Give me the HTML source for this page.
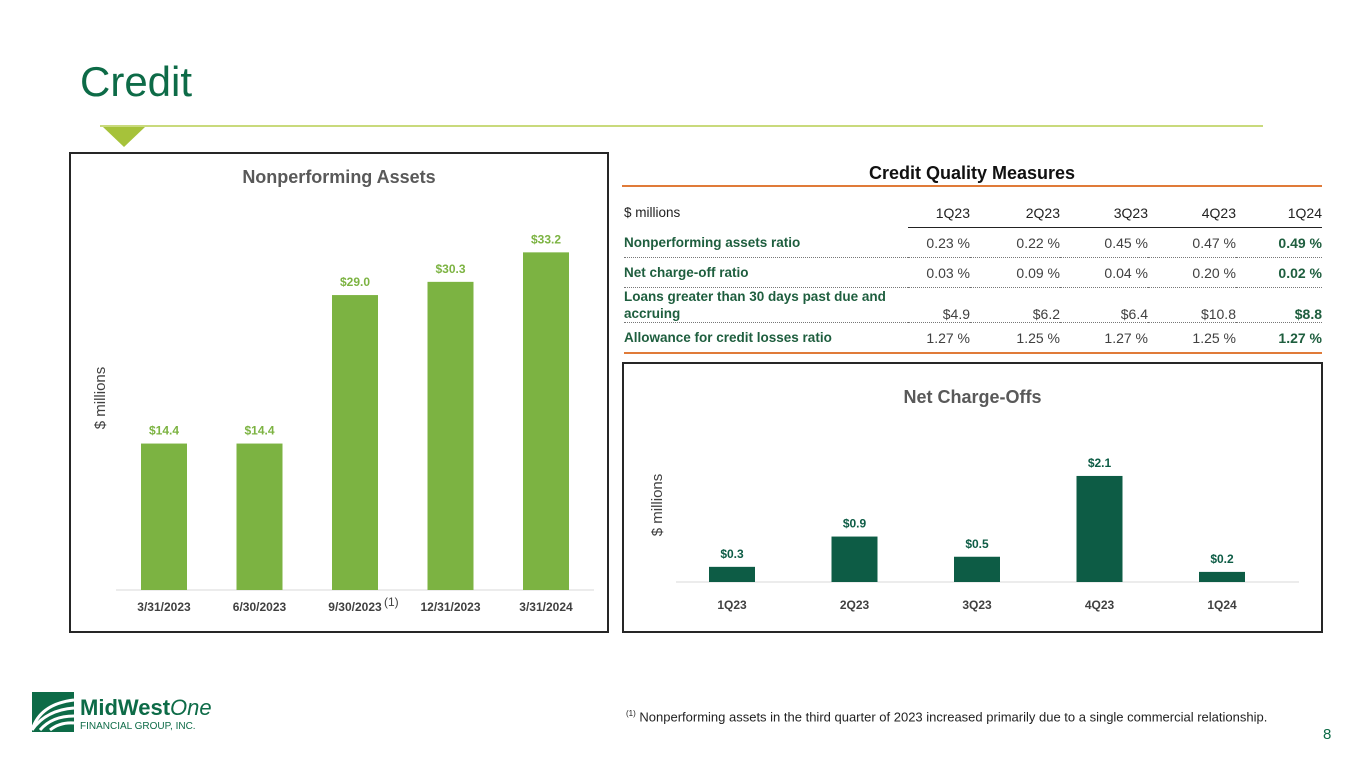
<!DOCTYPE html>
<html><head><meta charset="utf-8"><style>
body{margin:0;width:1365px;height:768px;background:#fff;font-family:"Liberation Sans",sans-serif;position:relative;overflow:hidden}
.a{position:absolute}
.box{position:absolute;border:2px solid #262626;box-sizing:border-box}
.ct{position:absolute;font-weight:bold;font-size:18px;color:#595959;text-align:center}
table{border-collapse:collapse;font-size:14px}
td{padding:0;height:29px;text-align:right;color:#404040}
td.l{text-align:left;color:#1e5e3e;font-weight:bold;font-size:13.5px}
tr.d td{border-bottom:1px dotted #777}
td.b{font-weight:bold;color:#1e5e3e}
</style></head><body>
<div class="a" style="left:80px;top:58px;font-size:42px;color:#0d6b47">Credit</div>
<div class="a" style="left:100px;top:125px;width:1163px;height:2px;background:#c9da7c"></div>
<div class="a" style="left:103px;top:127px;width:0;height:0;border-left:21px solid transparent;border-right:21px solid transparent;border-top:20px solid #a6c23a"></div>

<div class="box" style="left:69px;top:152px;width:540px;height:481px"></div>
<div class="ct" style="left:70px;width:538px;top:167px">Nonperforming Assets</div>
<svg class="a" id="npa" style="left:0;top:0" width="1365" height="768"></svg>

<div class="box" style="left:622px;top:362px;width:701px;height:271px"></div>
<div class="ct" style="left:623px;width:699px;top:387px">Net Charge-Offs</div>

<div class="ct" style="left:622px;width:700px;top:163px;color:#111">Credit Quality Measures</div>
<div class="a" style="left:622px;top:185px;width:700px;height:2px;background:#e07b39"></div>
<table class="a" style="left:624px;top:198px;width:698px">
<colgroup><col style="width:284px"><col style="width:62px"><col style="width:90px"><col style="width:88px"><col style="width:88px"><col style="width:86px"></colgroup>
<tr style="height:26px"><td class="l" style="font-weight:normal;color:#222;height:26px">$ millions</td><td style="border-bottom:1.5px solid #222;color:#222">1Q23</td><td style="border-bottom:1.5px solid #222;color:#222">2Q23</td><td style="border-bottom:1.5px solid #222;color:#222">3Q23</td><td style="border-bottom:1.5px solid #222;color:#222">4Q23</td><td style="border-bottom:1.5px solid #222;color:#222">1Q24</td></tr>
<tr class="d"><td class="l">Nonperforming assets ratio</td><td>0.23 %</td><td>0.22 %</td><td>0.45 %</td><td>0.47 %</td><td class="b">0.49 %</td></tr>
<tr class="d"><td class="l">Net charge-off ratio</td><td>0.03 %</td><td>0.09 %</td><td>0.04 %</td><td>0.20 %</td><td class="b">0.02 %</td></tr>
<tr class="d" style="vertical-align:bottom"><td class="l" style="height:34px;line-height:17px">Loans greater than 30 days past due and<br>accruing</td><td>$4.9</td><td>$6.2</td><td>$6.4</td><td>$10.8</td><td class="b">$8.8</td></tr>
<tr><td class="l" style="border-bottom:2px solid #e07b39">Allowance for credit losses ratio</td><td style="border-bottom:2px solid #e07b39">1.27 %</td><td style="border-bottom:2px solid #e07b39">1.25 %</td><td style="border-bottom:2px solid #e07b39">1.27 %</td><td style="border-bottom:2px solid #e07b39">1.25 %</td><td class="b" style="border-bottom:2px solid #e07b39">1.27 %</td></tr>
</table>

<svg class="a" style="left:32px;top:690px" width="190" height="45">
<rect x="0" y="2" width="42" height="40" fill="#0d6b47"/>
<path d="M0 40 Q8 14 42 10 M0 40 Q14 20 42 18 M8 40 Q20 26 42 26 M18 40 Q28 32 42 33" stroke="#fff" stroke-width="3" fill="none"/>
<text x="48" y="25" font-size="22" font-weight="bold" fill="#0d6b47" font-family="Liberation Sans">MidWest<tspan font-style="italic" font-weight="normal">One</tspan></text>
<text x="48" y="39" font-size="10" fill="#0d6b47" font-family="Liberation Sans">FINANCIAL GROUP, INC.</text>
</svg>
<div class="a" style="left:626px;top:709px;font-size:13px;color:#222;white-space:nowrap"><sup style="font-size:8px">(1)</sup> Nonperforming assets in the third quarter of 2023 increased primarily due to a single commercial relationship.</div>
<div class="a" style="left:1323px;top:726px;font-size:15px;color:#0d6b47">8</div>

<script>
const npaCategories=["3/31/2023","6/30/2023","9/30/2023","12/31/2023","3/31/2024"];
const npaValues=[14.4,14.4,29.0,30.3,33.2];
const npaLabels=["$14.4","$14.4","$29.0","$30.3","$33.2"];
const ncoCategories=["1Q23","2Q23","3Q23","4Q23","1Q24"];
const ncoValues=[0.3,0.9,0.5,2.1,0.2];
const ncoLabels=["$0.3","$0.9","$0.5","$2.1","$0.2"];
const svg=document.getElementById('npa');


const NS="http://www.w3.org/2000/svg";
function mk(t,a,txt){const e=document.createElementNS(NS,t);for(const k in a)e.setAttribute(k,a[k]);if(txt!=null)e.textContent=txt;svg.appendChild(e);return e;}
function chart(cfg){
  const {cats,vals,labs,x0,step,base,scale,color,bw,lblY,prefix,axisX1,axisX2,ytX,ytY}=cfg;
  const xs=i=>x0+i*step, ys=v=>base-v*scale;
  const ax=mk('line',{x1:axisX1,x2:axisX2,y1:base,y2:base,stroke:'#d9d9d9','stroke-width':1});
  
  
  vals.forEach((v,i)=>{
    const r=mk('rect',{x:xs(i)-bw/2,y:ys(v),width:bw,height:base-ys(v),fill:color});
    
    
    const t=mk('text',{x:xs(i),y:ys(v)-9,'text-anchor':'middle','font-size':12,'font-weight':'bold',fill:color,'font-family':'Liberation Sans'},labs[i]);
    
    
    const c=mk('text',{x:xs(i),y:lblY,'text-anchor':'middle','font-size':12,'font-weight':'bold',fill:'#404040','font-family':'Liberation Sans'},cats[i]);
    
    
  });
  const yt=mk('text',{x:ytX,y:ytY,'text-anchor':'middle','font-size':15,fill:'#404040','font-family':'Liberation Sans',transform:`rotate(-90 ${ytX} ${ytY})`},'$ millions');
  
  
}
chart({cats:npaCategories,vals:npaValues,labs:npaLabels,x0:164,step:95.5,base:590,scale:10.17,color:'#7cb342',bw:46,lblY:611,prefix:'npa',axisX1:116,axisX2:594,ytX:105,ytY:398});
const fn=mk('text',{x:384,y:606,'font-size':12,fill:'#404040','font-family':'Liberation Sans'},'(1)');


chart({cats:ncoCategories,vals:ncoValues,labs:ncoLabels,x0:732,step:122.5,base:582,scale:50.5,color:'#0d5c45',bw:46,lblY:609,prefix:'nco',axisX1:676,axisX2:1299,ytX:662,ytY:505});
</script>
</body></html>
